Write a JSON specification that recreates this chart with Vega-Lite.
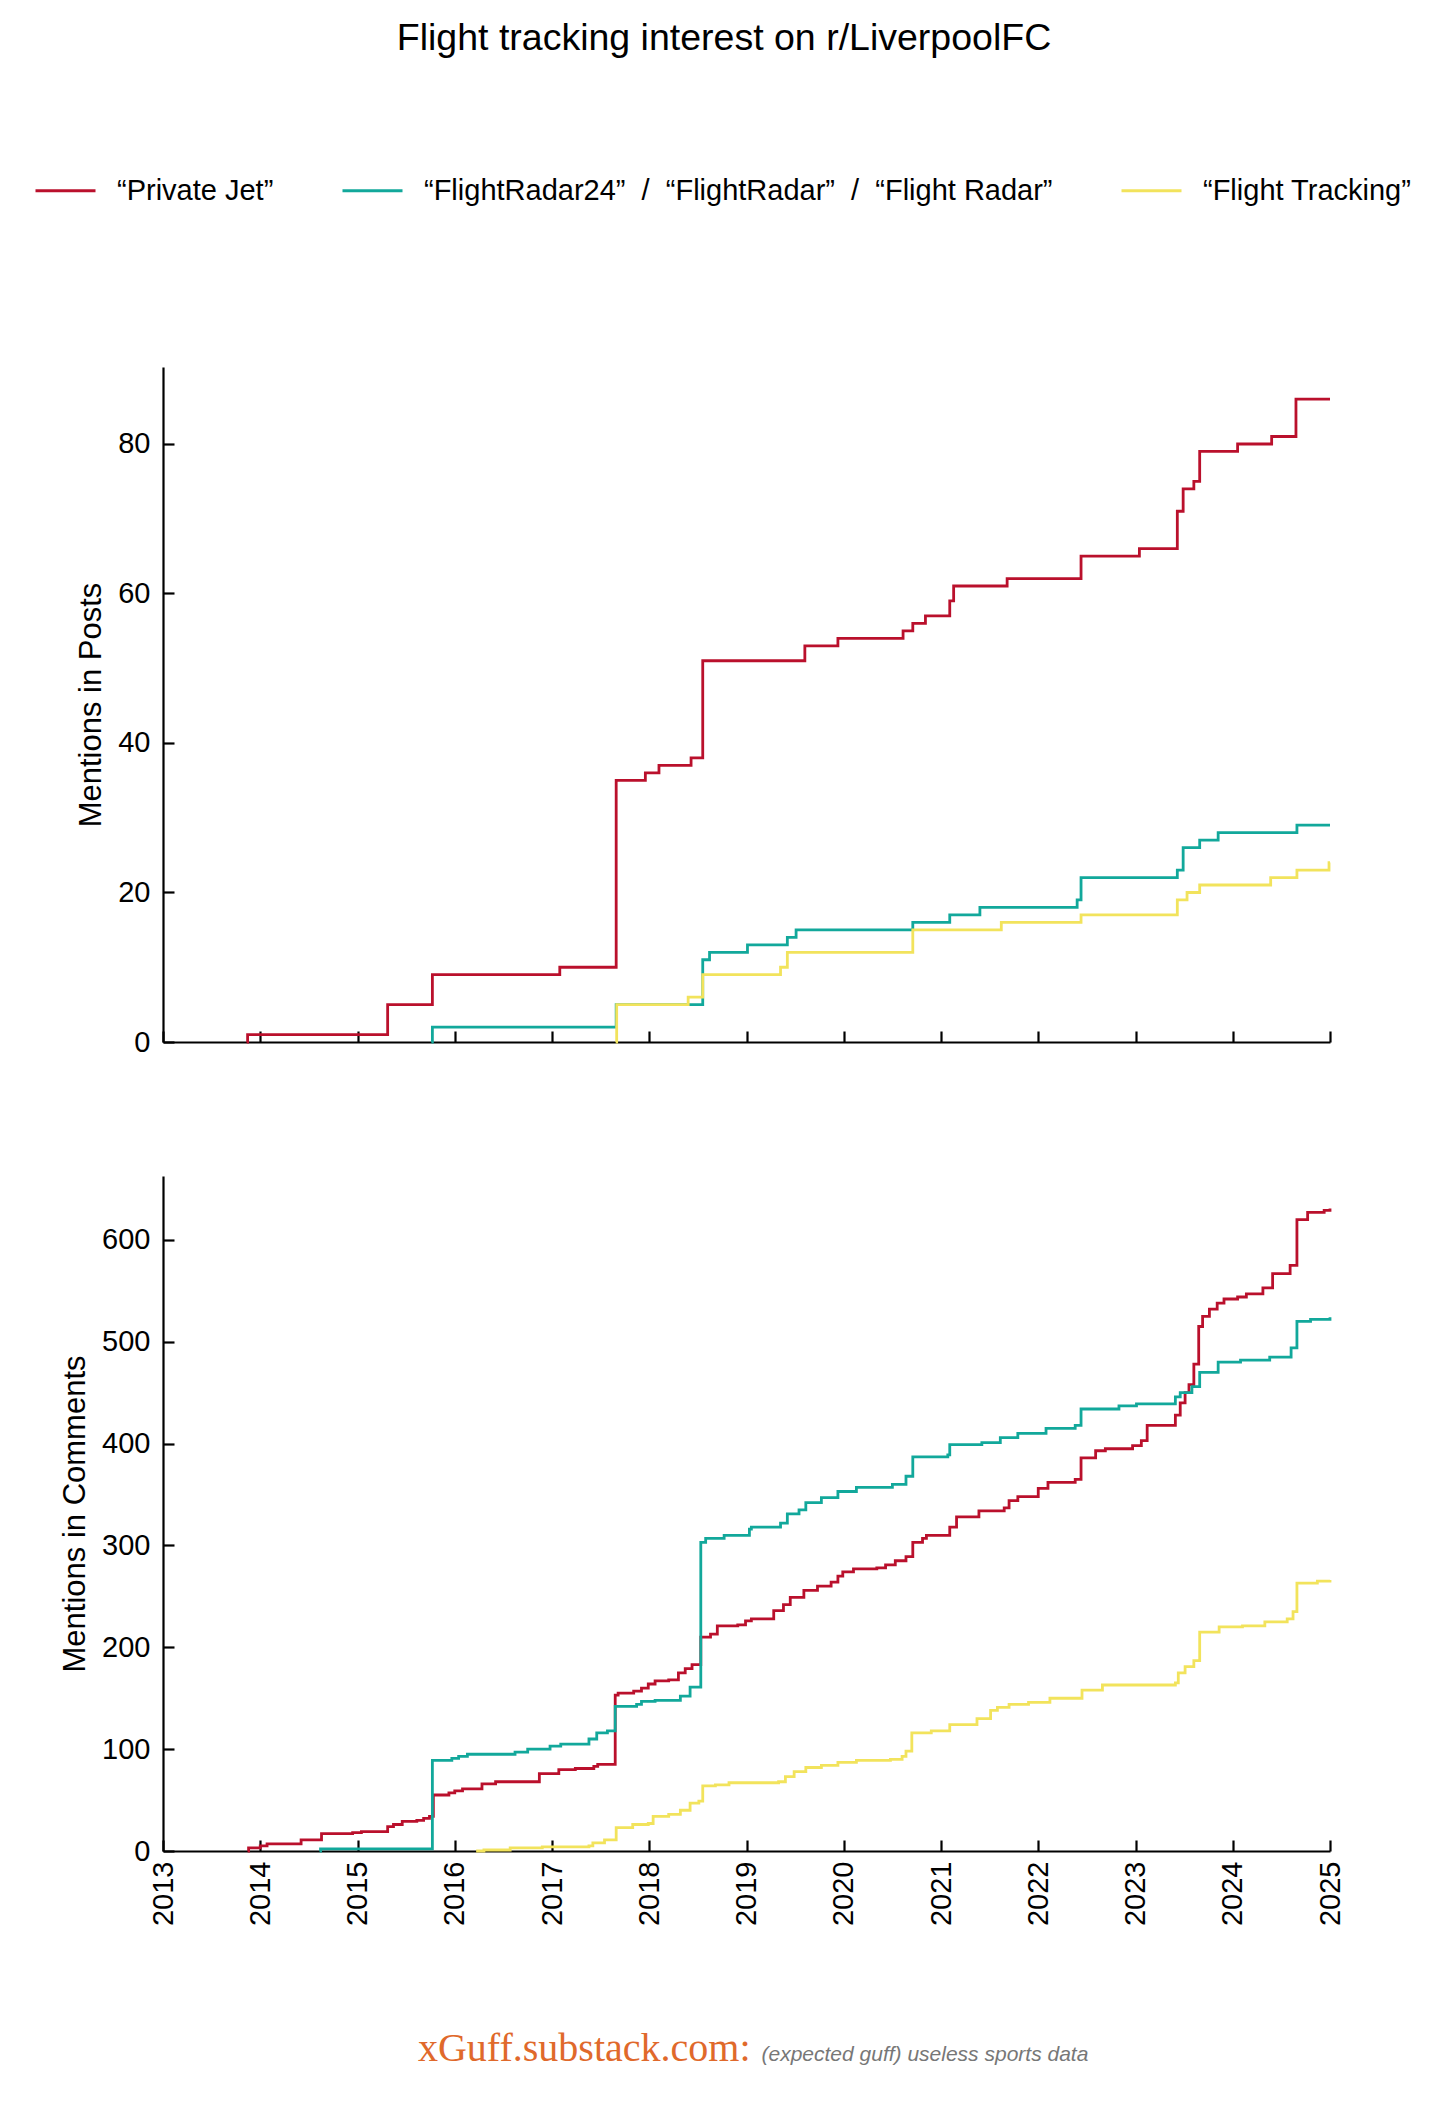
{
  "$schema": "https://vega.github.io/schema/vega-lite/v6.json",
  "background": "white",
  "padding": {"left": 34, "top": 19, "right": 10, "bottom": 10},
  "title": {"text": "Flight tracking interest on r/LiverpoolFC", "anchor": "middle", "dx": 1, "fontSize": 37.5, "fontWeight": "normal", "font": "Liberation Sans", "color": "black", "offset": 102},
  "config": {
    "view": {"stroke": null},
    "axis": {"grid": false, "domainColor": "black", "domainWidth": 2.2, "tickColor": "black", "tickWidth": 2.2, "tickSize": -11, "labelFont": "Liberation Sans", "labelFontSize": 29, "labelColor": "black", "titleFont": "Liberation Sans", "titleFontSize": 31, "titleFontWeight": "normal", "titleColor": "black", "zindex": 1},
    "axisY": {"labelPadding": 24, "titlePadding": 10},
    "axisX": {"labelPadding": 21}
  },
  "datasets": {
    "posts": [
      {"s":"jet","t":2013.86,"v":0},{"s":"jet","t":2013.87,"v":1},{"s":"jet","t":2015.31,"v":5},{"s":"jet","t":2015.77,"v":9},{"s":"jet","t":2017.08,"v":10},{"s":"jet","t":2017.66,"v":35},{"s":"jet","t":2017.96,"v":36},{"s":"jet","t":2018.10,"v":37},{"s":"jet","t":2018.43,"v":38},{"s":"jet","t":2018.55,"v":51},{"s":"jet","t":2019.60,"v":53},{"s":"jet","t":2019.94,"v":54},{"s":"jet","t":2020.61,"v":55},{"s":"jet","t":2020.71,"v":56},{"s":"jet","t":2020.84,"v":57},{"s":"jet","t":2021.09,"v":59},{"s":"jet","t":2021.13,"v":61},{"s":"jet","t":2021.68,"v":62},{"s":"jet","t":2022.44,"v":65},{"s":"jet","t":2023.04,"v":66},{"s":"jet","t":2023.43,"v":71},{"s":"jet","t":2023.49,"v":74},{"s":"jet","t":2023.60,"v":75},{"s":"jet","t":2023.66,"v":79},{"s":"jet","t":2024.05,"v":80},{"s":"jet","t":2024.40,"v":81},{"s":"jet","t":2024.65,"v":86},{"s":"jet","t":2025,"v":86},
      {"s":"radar","t":2015.76,"v":0},{"s":"radar","t":2015.77,"v":2},{"s":"radar","t":2017.66,"v":5},{"s":"radar","t":2018.55,"v":11},{"s":"radar","t":2018.62,"v":12},{"s":"radar","t":2019.01,"v":13},{"s":"radar","t":2019.42,"v":14},{"s":"radar","t":2019.51,"v":15},{"s":"radar","t":2020.71,"v":16},{"s":"radar","t":2021.09,"v":17},{"s":"radar","t":2021.40,"v":18},{"s":"radar","t":2022.40,"v":19},{"s":"radar","t":2022.44,"v":22},{"s":"radar","t":2023.43,"v":23},{"s":"radar","t":2023.49,"v":26},{"s":"radar","t":2023.66,"v":27},{"s":"radar","t":2023.85,"v":28},{"s":"radar","t":2024.66,"v":29},{"s":"radar","t":2025,"v":29},
      {"s":"track","t":2017.655,"v":0},{"s":"track","t":2017.665,"v":5},{"s":"track","t":2018.40,"v":6},{"s":"track","t":2018.55,"v":9},{"s":"track","t":2019.35,"v":10},{"s":"track","t":2019.42,"v":12},{"s":"track","t":2020.71,"v":15},{"s":"track","t":2021.62,"v":16},{"s":"track","t":2022.44,"v":17},{"s":"track","t":2023.43,"v":19},{"s":"track","t":2023.53,"v":20},{"s":"track","t":2023.66,"v":21},{"s":"track","t":2024.39,"v":22},{"s":"track","t":2024.66,"v":23},{"s":"track","t":2024.99,"v":24},{"s":"track","t":2025,"v":24}
    ],
    "comments": [
      {"s":"jet","t":2013.87,"v":0},{"s":"jet","t":2013.88,"v":3},{"s":"jet","t":2014.0,"v":5},{"s":"jet","t":2014.07,"v":7},{"s":"jet","t":2014.42,"v":11},{"s":"jet","t":2014.63,"v":17},{"s":"jet","t":2014.95,"v":18},{"s":"jet","t":2015.04,"v":19},{"s":"jet","t":2015.31,"v":24},{"s":"jet","t":2015.37,"v":26},{"s":"jet","t":2015.46,"v":29},{"s":"jet","t":2015.61,"v":30},{"s":"jet","t":2015.68,"v":32},{"s":"jet","t":2015.74,"v":34},{"s":"jet","t":2015.78,"v":55},{"s":"jet","t":2015.94,"v":57},{"s":"jet","t":2016.0,"v":59},{"s":"jet","t":2016.08,"v":61},{"s":"jet","t":2016.28,"v":66},{"s":"jet","t":2016.42,"v":68},{"s":"jet","t":2016.87,"v":76},{"s":"jet","t":2017.07,"v":80},{"s":"jet","t":2017.24,"v":81},{"s":"jet","t":2017.43,"v":83},{"s":"jet","t":2017.47,"v":85},{"s":"jet","t":2017.65,"v":153},{"s":"jet","t":2017.68,"v":155},{"s":"jet","t":2017.84,"v":157},{"s":"jet","t":2017.92,"v":160},{"s":"jet","t":2017.99,"v":164},{"s":"jet","t":2018.06,"v":167},{"s":"jet","t":2018.20,"v":168},{"s":"jet","t":2018.30,"v":175},{"s":"jet","t":2018.37,"v":179},{"s":"jet","t":2018.44,"v":183},{"s":"jet","t":2018.53,"v":210},{"s":"jet","t":2018.63,"v":213},{"s":"jet","t":2018.70,"v":221},{"s":"jet","t":2018.91,"v":222},{"s":"jet","t":2018.99,"v":226},{"s":"jet","t":2019.05,"v":228},{"s":"jet","t":2019.28,"v":236},{"s":"jet","t":2019.38,"v":242},{"s":"jet","t":2019.45,"v":249},{"s":"jet","t":2019.59,"v":256},{"s":"jet","t":2019.73,"v":260},{"s":"jet","t":2019.87,"v":264},{"s":"jet","t":2019.94,"v":270},{"s":"jet","t":2019.99,"v":274},{"s":"jet","t":2020.10,"v":277},{"s":"jet","t":2020.34,"v":278},{"s":"jet","t":2020.43,"v":281},{"s":"jet","t":2020.53,"v":285},{"s":"jet","t":2020.64,"v":289},{"s":"jet","t":2020.71,"v":303},{"s":"jet","t":2020.81,"v":307},{"s":"jet","t":2020.85,"v":310},{"s":"jet","t":2021.09,"v":318},{"s":"jet","t":2021.16,"v":328},{"s":"jet","t":2021.39,"v":334},{"s":"jet","t":2021.65,"v":337},{"s":"jet","t":2021.70,"v":344},{"s":"jet","t":2021.79,"v":348},{"s":"jet","t":2022.00,"v":356},{"s":"jet","t":2022.10,"v":362},{"s":"jet","t":2022.38,"v":365},{"s":"jet","t":2022.44,"v":386},{"s":"jet","t":2022.59,"v":393},{"s":"jet","t":2022.69,"v":395},{"s":"jet","t":2022.97,"v":398},{"s":"jet","t":2023.06,"v":403},{"s":"jet","t":2023.12,"v":418},{"s":"jet","t":2023.41,"v":428},{"s":"jet","t":2023.46,"v":440},{"s":"jet","t":2023.51,"v":450},{"s":"jet","t":2023.55,"v":458},{"s":"jet","t":2023.60,"v":478},{"s":"jet","t":2023.65,"v":515},{"s":"jet","t":2023.69,"v":525},{"s":"jet","t":2023.76,"v":532},{"s":"jet","t":2023.84,"v":538},{"s":"jet","t":2023.91,"v":542},{"s":"jet","t":2024.05,"v":544},{"s":"jet","t":2024.14,"v":547},{"s":"jet","t":2024.31,"v":553},{"s":"jet","t":2024.41,"v":567},{"s":"jet","t":2024.59,"v":575},{"s":"jet","t":2024.66,"v":620},{"s":"jet","t":2024.77,"v":627},{"s":"jet","t":2024.94,"v":629},{"s":"jet","t":2025.0,"v":631},
      {"s":"radar","t":2014.61,"v":0},{"s":"radar","t":2014.62,"v":2},{"s":"radar","t":2015.77,"v":89},{"s":"radar","t":2015.97,"v":91},{"s":"radar","t":2016.04,"v":93},{"s":"radar","t":2016.13,"v":95},{"s":"radar","t":2016.62,"v":97},{"s":"radar","t":2016.75,"v":100},{"s":"radar","t":2016.98,"v":103},{"s":"radar","t":2017.09,"v":105},{"s":"radar","t":2017.38,"v":110},{"s":"radar","t":2017.46,"v":116},{"s":"radar","t":2017.57,"v":118},{"s":"radar","t":2017.65,"v":142},{"s":"radar","t":2017.87,"v":144},{"s":"radar","t":2017.92,"v":147},{"s":"radar","t":2018.06,"v":148},{"s":"radar","t":2018.32,"v":152},{"s":"radar","t":2018.42,"v":161},{"s":"radar","t":2018.53,"v":303},{"s":"radar","t":2018.58,"v":307},{"s":"radar","t":2018.77,"v":310},{"s":"radar","t":2019.03,"v":316},{"s":"radar","t":2019.05,"v":318},{"s":"radar","t":2019.35,"v":322},{"s":"radar","t":2019.42,"v":331},{"s":"radar","t":2019.54,"v":335},{"s":"radar","t":2019.61,"v":342},{"s":"radar","t":2019.77,"v":347},{"s":"radar","t":2019.94,"v":353},{"s":"radar","t":2020.13,"v":357},{"s":"radar","t":2020.50,"v":360},{"s":"radar","t":2020.64,"v":368},{"s":"radar","t":2020.71,"v":387},{"s":"radar","t":2021.07,"v":389},{"s":"radar","t":2021.09,"v":399},{"s":"radar","t":2021.42,"v":401},{"s":"radar","t":2021.61,"v":406},{"s":"radar","t":2021.79,"v":410},{"s":"radar","t":2022.08,"v":415},{"s":"radar","t":2022.38,"v":418},{"s":"radar","t":2022.44,"v":434},{"s":"radar","t":2022.83,"v":437},{"s":"radar","t":2023.01,"v":439},{"s":"radar","t":2023.41,"v":446},{"s":"radar","t":2023.46,"v":450},{"s":"radar","t":2023.58,"v":456},{"s":"radar","t":2023.66,"v":470},{"s":"radar","t":2023.85,"v":480},{"s":"radar","t":2024.08,"v":482},{"s":"radar","t":2024.38,"v":485},{"s":"radar","t":2024.60,"v":494},{"s":"radar","t":2024.66,"v":520},{"s":"radar","t":2024.80,"v":522},{"s":"radar","t":2025.0,"v":524},
      {"s":"track","t":2016.22,"v":0},{"s":"track","t":2016.30,"v":1},{"s":"track","t":2016.57,"v":3},{"s":"track","t":2016.90,"v":4},{"s":"track","t":2017.38,"v":5},{"s":"track","t":2017.42,"v":8},{"s":"track","t":2017.54,"v":11},{"s":"track","t":2017.66,"v":23},{"s":"track","t":2017.83,"v":26},{"s":"track","t":2017.99,"v":27},{"s":"track","t":2018.04,"v":34},{"s":"track","t":2018.20,"v":36},{"s":"track","t":2018.32,"v":40},{"s":"track","t":2018.42,"v":47},{"s":"track","t":2018.51,"v":49},{"s":"track","t":2018.55,"v":64},{"s":"track","t":2018.68,"v":65},{"s":"track","t":2018.82,"v":67},{"s":"track","t":2019.33,"v":68},{"s":"track","t":2019.40,"v":73},{"s":"track","t":2019.49,"v":78},{"s":"track","t":2019.61,"v":82},{"s":"track","t":2019.77,"v":84},{"s":"track","t":2019.94,"v":87},{"s":"track","t":2020.13,"v":89},{"s":"track","t":2020.48,"v":90},{"s":"track","t":2020.60,"v":93},{"s":"track","t":2020.64,"v":98},{"s":"track","t":2020.70,"v":116},{"s":"track","t":2020.90,"v":118},{"s":"track","t":2021.09,"v":124},{"s":"track","t":2021.37,"v":130},{"s":"track","t":2021.51,"v":138},{"s":"track","t":2021.58,"v":141},{"s":"track","t":2021.70,"v":144},{"s":"track","t":2021.90,"v":146},{"s":"track","t":2022.12,"v":150},{"s":"track","t":2022.45,"v":158},{"s":"track","t":2022.66,"v":163},{"s":"track","t":2023.41,"v":165},{"s":"track","t":2023.44,"v":175},{"s":"track","t":2023.51,"v":181},{"s":"track","t":2023.60,"v":187},{"s":"track","t":2023.66,"v":215},{"s":"track","t":2023.86,"v":220},{"s":"track","t":2024.10,"v":221},{"s":"track","t":2024.33,"v":225},{"s":"track","t":2024.56,"v":228},{"s":"track","t":2024.62,"v":235},{"s":"track","t":2024.66,"v":263},{"s":"track","t":2024.87,"v":265},{"s":"track","t":2025.0,"v":266}
    ]
  },
  "spacing": 134,
  "bounds": "flush",
  "resolve": {"scale": {"color": "independent"}, "legend": {"color": "independent"}},
  "vconcat": [
    {
      "width": 1167,
      "height": 675,
      "data": {"name": "posts"},
      "mark": {"type": "line", "interpolate": "step-after", "strokeWidth": 2.8},
      "encoding": {
        "x": {"field": "t", "type": "quantitative", "scale": {"domain": [2013, 2025], "nice": false, "zero": false}, "axis": {"values": [2013,2014,2015,2016,2017,2018,2019,2020,2021,2022,2023,2024,2025], "labels": false, "title": null}},
        "y": {"field": "v", "type": "quantitative", "scale": {"domain": [0, 90.3], "nice": false}, "axis": {"values": [0,20,40,60,80], "title": "Mentions in Posts"}},
        "color": {"field": "s", "type": "nominal", "scale": {"domain": ["jet","radar","track"], "range": ["#BA102C","#12A89B","#F2E35C"]},
          "legend": {"orient": "none", "legendX": -129, "legendY": -208, "direction": "horizontal", "title": null, "labelFont": "Liberation Sans", "labelFontSize": 29, "labelColor": "black", "labelLimit": 0, "symbolType": "stroke", "symbolSize": 3600, "symbolStrokeWidth": 2.8, "columnPadding": 62, "labelOffset": 20,
            "labelExpr": "datum.value == 'jet' ? '“Private Jet”' : datum.value == 'radar' ? '“FlightRadar24”\u00a0 /\u00a0 “FlightRadar”\u00a0 /\u00a0 “Flight Radar”' : '“Flight Tracking”'"}}
      }
    },
    {
      "width": 1167,
      "height": 675,
      "data": {"name": "comments"},
      "mark": {"type": "line", "interpolate": "step-after", "strokeWidth": 2.8},
      "encoding": {
        "x": {"field": "t", "type": "quantitative", "scale": {"domain": [2013, 2025], "nice": false, "zero": false}, "axis": {"values": [2013,2014,2015,2016,2017,2018,2019,2020,2021,2022,2023,2024,2025], "format": "d", "labelAngle": 270, "title": null}},
        "y": {"field": "v", "type": "quantitative", "scale": {"domain": [0, 662.8], "nice": false}, "axis": {"values": [0,100,200,300,400,500,600], "title": "Mentions in Comments"}},
        "color": {"field": "s", "type": "nominal", "scale": {"domain": ["jet","radar","track"], "range": ["#BA102C","#12A89B","#F2E35C"]}, "legend": null}
      }
    },
    {
      "width": 1167,
      "height": 152,
      "layer": [
        {"data": {"values": [{"label": "xGuff.substack.com:"}]}, "mark": {"type": "text", "align": "right", "baseline": "alphabetic", "dx": 4, "font": "Liberation Serif", "fontSize": 40, "color": "#E0692B"}, "encoding": {"text": {"field": "label"}}},
        {"data": {"values": [{"label": "(expected guff) useless sports data"}]}, "mark": {"type": "text", "align": "left", "baseline": "alphabetic", "dx": 15, "font": "Liberation Sans", "fontStyle": "italic", "fontSize": 21, "color": "#777777"}, "encoding": {"text": {"field": "label"}}}
      ]
    }
  ]
}
